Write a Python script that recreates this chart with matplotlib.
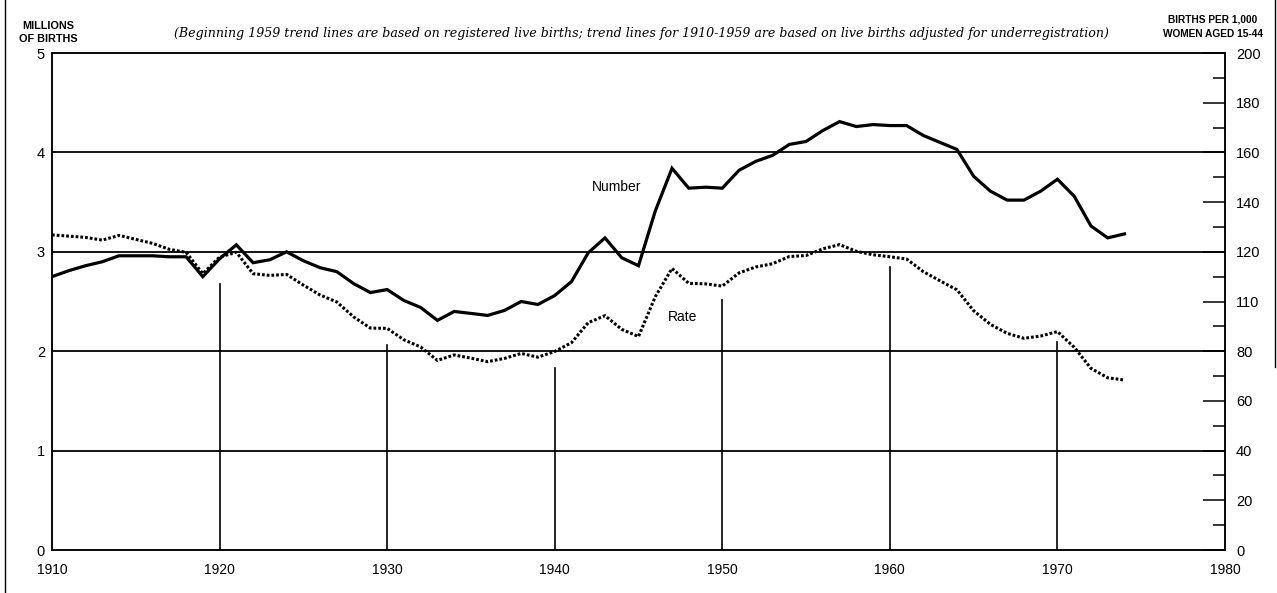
import matplotlib
matplotlib.use("Agg")
import matplotlib.pyplot as plt
from matplotlib.lines import Line2D
import numpy as np

years = list(range(1910, 1975))
number_millions = [
    2.75, 2.81, 2.86, 2.90, 2.96, 2.96, 2.96, 2.95, 2.95, 2.75,
    2.93, 3.07, 2.89, 2.92, 3.00, 2.91, 2.84, 2.80, 2.68, 2.59,
    2.62, 2.51, 2.44, 2.31, 2.40, 2.38, 2.36, 2.41, 2.50, 2.47,
    2.56, 2.70, 2.99, 3.14, 2.94, 2.86, 3.41, 3.84, 3.64, 3.65,
    3.64, 3.82, 3.91, 3.97, 4.08, 4.11, 4.22, 4.31, 4.26, 4.28,
    4.27, 4.27, 4.17, 4.10, 4.03, 3.76, 3.61, 3.52, 3.52, 3.61,
    3.73, 3.56, 3.26, 3.14, 3.18,
]
rate_per_1000 = [
    126.8, 126.3, 125.8, 124.7, 126.6, 125.0, 123.4, 121.0, 119.8, 111.2,
    117.9, 119.8, 111.2, 110.5, 110.9, 106.6, 102.6, 99.8, 93.8, 89.3,
    89.2, 84.6, 81.7, 76.3, 78.5, 77.2, 75.8, 77.1, 79.1, 77.6,
    79.9, 83.4, 91.5, 94.3, 88.8, 85.9, 101.9, 113.3, 107.3, 107.1,
    106.2, 111.5, 113.9, 115.2, 118.1, 118.5, 121.2, 122.9, 120.2, 118.8,
    118.0, 117.1, 112.0, 108.3, 104.7, 96.3, 90.8, 87.2, 85.2, 86.1,
    87.9, 81.6, 73.1, 69.3, 68.4,
]
x_ticks = [1910, 1920, 1930, 1940, 1950, 1960, 1970, 1980]
left_ticks = [0, 1, 2, 3, 4, 5]
right_major = [0, 20, 40, 60, 80, 100, 120, 140, 160, 180, 200]
right_labels = ["0", "20", "40", "60", "80", "110", "120", "140", "160", "180", "200"]
right_minor = [10, 30, 50, 70, 90, 110, 130, 150, 170, 190]
h_grid = [1, 2, 3, 4]
v_grid_years = [1920, 1930, 1940, 1950, 1960, 1970]
v_grid_tops = [0.535, 0.412, 0.366, 0.503, 0.57, 0.419]

W, H = 1277, 593
fig = plt.figure(figsize=(W / 100, H / 100), dpi=100)
fig.patch.set_facecolor("white")
ax = fig.add_axes([52 / W, 1 - 550 / H, (1225 - 52) / W, (550 - 53) / H])
ax2 = ax.twinx()

sans = "Liberation Sans"
lw_spine = 1.1

ax.set_xlim(1910, 1980)
ax.set_ylim(0, 5)
ax2.set_ylim(0, 200)

for v in h_grid:
    ax.axhline(v, color="black", lw=1.3, zorder=1)
for yr, top in zip(v_grid_years, v_grid_tops):
    ax.axvline(yr, ymin=0, ymax=top, color="black", lw=1.2, zorder=1)

ax.plot(years, number_millions, color="black", lw=2.3, solid_joinstyle="miter", zorder=3)
ax2.plot(years, rate_per_1000, color="black", lw=2.2, linestyle=(0, (0.9, 0.65)),
         dash_capstyle="butt", zorder=3)

for a in (ax, ax2):
    for s in a.spines.values():
        s.set_linewidth(lw_spine)
        s.set_color("black")

ax.set_xticks(x_ticks)
ax.set_xticklabels([str(t) for t in x_ticks], fontfamily=sans, fontsize=10)
ax.tick_params(axis="x", length=0, pad=9)
ax.set_yticks(left_ticks)
ax.set_yticklabels([str(t) for t in left_ticks], fontfamily=sans, fontsize=10.5)
ax.tick_params(axis="y", length=0, pad=5)

ax2.set_yticks(right_major)
ax2.set_yticklabels(right_labels, fontfamily=sans, fontsize=10.5)
ax2.set_yticks(right_minor, minor=True)
ax2.tick_params(axis="y", which="major", direction="in", length=16, width=1.1, pad=8)
ax2.tick_params(axis="y", which="minor", direction="in", length=8.5, width=1.1)

ax.text(1943.7, 3.65, "Number", fontfamily=sans, fontsize=10, ha="center", va="center")
ax.text(1947.6, 2.34, "Rate", fontfamily=sans, fontsize=10, ha="center", va="center")

hdr = dict(fontfamily=sans, fontweight="bold", ha="center", va="center")
fig.text(48 / W, 1 - 26 / H, "MILLIONS", fontsize=7.8, **hdr)
fig.text(48 / W, 1 - 39 / H, "OF BIRTHS", fontsize=7.8, **hdr)
fig.text(1213 / W, 1 - 20 / H, "BIRTHS PER 1,000", fontsize=7.3, **hdr)
fig.text(1213 / W, 1 - 34 / H, "WOMEN AGED 15-44", fontsize=7.3, **hdr)
fig.text(641 / W, 1 - 33 / H,
         "(Beginning 1959 trend lines are based on registered live births; "
         "trend lines for 1910-1959 are based on live births adjusted for underregistration)",
         fontfamily="DejaVu Serif", fontstyle="italic", fontsize=9.08,
         ha="center", va="center")

fig.add_artist(Line2D([5 / W, 5 / W], [0, 1], transform=fig.transFigure, color="black", lw=1.0))
fig.add_artist(Line2D([1275 / W, 1275 / W], [1 - 367 / H, 1], transform=fig.transFigure,
                      color="black", lw=1.0))

fig.savefig("out.png", dpi=100, facecolor="white")
